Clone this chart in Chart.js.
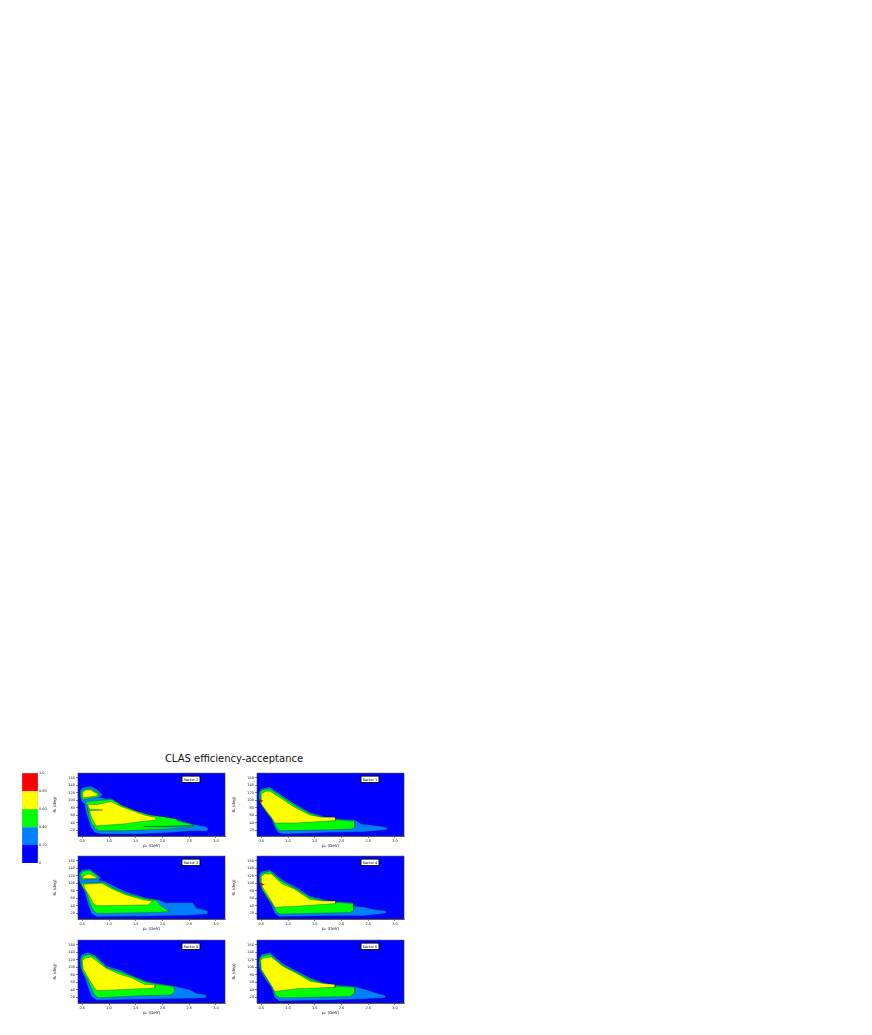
<!DOCTYPE html>
<html>
<head>
<meta charset="utf-8">
<script src="https://cdn.jsdelivr.net/npm/chart.js@4"></script>
<style>
body { margin: 0; background: #fff; width: 872px; height: 1035px; position: relative; overflow: hidden; font-family: "DejaVu Sans", sans-serif; }
#title { position: absolute; left: 0; width: 468px; top: 753px; text-align: center; font-size: 10px; color: #111; }
canvas { position: absolute; }
</style>
</head>
<body>
<div id="title">CLAS efficiency-acceptance</div>
<script>
// colour levels, bottom to top
const levelColors = ['#0000ff', '#0080ff', '#00ff00', '#ffff00', '#ff0000'];
const levelLabels = ['0', '0.20', '0.40', '0.60', '0.80', '1.0'];
const levelTicks = [0, 0.2, 0.4, 0.6, 0.8, 1.0];

const xTicks = [0.5, 1.0, 1.5, 2.0, 2.5, 3.0];
const yTicks = [20, 40, 60, 80, 100, 120, 140, 160];

// contours: [p (GeV), theta (deg)]
// Sector 2
const s2Level20 = [[0.46,126],[0.51,134],[0.66,137],[0.76,130.5],[0.88,114.5],[0.82,107],[0.97,104],[1.03,105.5],[1.15,95],[1.27,81],[1.52,68],[1.76,57],[2.07,50],[2.31,47.5],[2.55,37],[2.80,30.5],[2.86,25],[2.83,18],[2.49,18],[2.19,14.5],[1.58,10],[0.85,10],[0.73,14.5],[0.66,28],[0.62,46],[0.57,68],[0.54,90],[0.48,99],[0.46,113]];
const s2Level40a = [[0.48,122],[0.54,129],[0.66,130.5],[0.82,117],[0.79,108],[0.51,102],[0.48,108]];
const s2Level40b = [[0.57,96.5],[0.97,101],[1.06,102],[1.21,88],[1.52,71],[1.76,61],[2.07,55],[2.25,50],[2.30,44],[2.55,36],[2.60,31],[2.45,26],[2.07,23.5],[1.27,19],[0.79,19],[0.73,28],[0.66,41],[0.63,59],[0.60,81],[0.57,90]];
const s2Level60a = [[0.51,122],[0.57,127],[0.66,127],[0.79,116],[0.76,111],[0.52,106.5],[0.51,113]];
const s2Level60b = [[0.60,89.5],[0.76,88],[1.0,95],[1.04,96.5],[1.21,84],[1.52,68],[1.70,59],[1.87,55],[1.88,47.5],[1.58,43],[1.27,37],[0.97,34],[0.76,32],[0.70,46],[0.66,59],[0.63,77]];
const s2GreenTongue = [[0.60,77],[0.88,74],[0.60,71.5]];
const s2YellowSpot = [[0.74,30.5],[0.79,26],[0.74,23.5]];
const s2BlueTongue = [[2.58,33.5],[1.65,30],[2.45,28]];

// Sector 1
const s1Level20 = [[0.46,121.5],[0.50,130.5],[0.66,135],[0.94,108],[1.16,88],[1.41,68],[1.72,55],[1.97,50],[2.25,47.5],[2.37,37],[2.66,32],[2.84,28],[2.86,21.5],[2.66,19],[2.41,16],[1.78,14.5],[0.91,10],[0.81,14.5],[0.75,28],[0.69,50],[0.62,68],[0.53,86],[0.47,95],[0.45,108]];
const s1Level40 = [[0.48,121.5],[0.53,128],[0.66,130.5],[0.91,106.5],[1.16,84],[1.41,65],[1.78,50],[2.25,44],[2.25,28],[2.19,23.5],[1.78,21.5],[0.84,19],[0.78,28],[0.72,46],[0.62,63.5],[0.53,81.5],[0.48,93]];
const s1Level60 = [[0.50,117],[0.59,124],[0.66,124],[0.88,104],[1.12,81.5],[1.41,61],[1.62,55],[1.88,55],[1.89,46],[1.16,39.5],[0.75,39.5],[0.69,55],[0.59,72.5],[0.50,90]];
const s1Level80 = [[0.48,101],[0.53,99],[0.49,95]];

// Sector 3
const s3Level20 = [[0.44,127],[0.50,136],[0.64,138],[0.85,115],[0.80,108],[0.92,105],[1.14,89],[1.36,75.5],[1.70,61],[1.92,56],[2.07,48],[2.57,48],[2.63,34.5],[2.85,27],[2.85,18],[2.51,15],[1.57,12.5],[0.77,11],[0.67,20],[0.61,42.5],[0.55,74.5],[0.47,97],[0.44,106]];
const s3Level40a = [[0.47,124.5],[0.52,132],[0.64,134],[0.80,117],[0.77,111],[0.49,109]];
const s3Level40b = [[0.47,100],[0.89,102],[1.11,85.5],[1.33,72],[1.70,58],[1.89,54.5],[1.95,42.5],[2.13,24.5],[1.76,22],[0.95,20],[0.77,20],[0.70,29],[0.64,47],[0.58,74.5],[0.49,93]];
const s3Level60a = [[0.51,118],[0.58,123.5],[0.64,124.5],[0.77,115],[0.74,112.5],[0.52,112.5]];
const s3Level60b = [[0.52,97],[0.86,100],[1.08,83.5],[1.30,70],[1.64,56],[1.82,52],[1.73,42.5],[0.77,40],[0.70,47],[0.64,65],[0.55,85.5]];

// Sector 4
const s4Level20 = [[0.46,122],[0.50,131],[0.66,136],[0.91,107],[1.16,89],[1.41,66],[1.78,53],[2.22,48],[2.25,39],[2.41,37],[2.66,29],[2.84,27],[2.84,20],[2.41,13.5],[1.78,13.5],[0.84,11],[0.75,20],[0.69,42.5],[0.59,65],[0.50,88],[0.46,102]];
const s4Level40 = [[0.48,120],[0.53,127],[0.66,132],[0.88,105.5],[1.16,84],[1.41,62],[1.78,50],[2.22,46],[2.23,29],[2.16,22],[0.84,18],[0.78,24.5],[0.72,42.5],[0.62,61],[0.52,83.5],[0.48,97]];
const s4Level60 = [[0.50,118],[0.56,124.5],[0.69,124.5],[0.88,99],[1.12,84.5],[1.41,57],[1.66,53],[1.89,53],[1.89,46],[1.16,39],[0.75,36],[0.69,52],[0.59,75],[0.50,94.5]];
const s4Level80 = [[0.47,101],[0.56,97],[0.50,93]];

// Sector 5
const s5Level20 = [[0.46,122.5],[0.49,133.5],[0.61,139],[0.74,131.5],[0.95,104],[1.20,93],[1.42,79],[1.70,63],[1.95,56],[2.26,49],[2.51,40],[2.63,31],[2.82,26.5],[2.82,19],[2.51,17],[1.57,15],[0.77,12.5],[0.67,22],[0.61,45],[0.55,72],[0.49,90.5],[0.46,104]];
const s5Level40 = [[0.48,120],[0.52,130],[0.63,134.5],[0.74,127],[0.95,99.5],[1.20,88],[1.42,76],[1.70,60],[1.95,54],[2.20,48.5],[2.23,37.5],[2.17,26.5],[1.57,24],[0.80,19],[0.73,26.5],[0.67,45],[0.58,72],[0.50,90.5]];
const s5Level60 = [[0.50,118],[0.55,124.5],[0.67,127],[0.95,97],[1.20,81],[1.42,72],[1.67,54],[1.86,54],[1.86,45],[0.77,37.5],[0.71,49],[0.61,72],[0.52,95]];

// Sector 6
const s6Level20 = [[0.46,122.5],[0.50,134.5],[0.66,139],[0.91,109],[1.16,90.5],[1.41,72],[1.78,54],[2.25,49],[2.47,40],[2.66,31],[2.83,24.5],[2.83,19],[2.41,15.5],[1.78,13],[0.84,10],[0.75,19],[0.69,45],[0.58,67.5],[0.48,90.5],[0.45,104]];
const s6Level40 = [[0.47,118],[0.51,130],[0.66,134.5],[0.88,107],[1.16,86],[1.41,68],[1.78,51],[2.25,46.5],[2.25,31],[2.16,22],[0.84,19],[0.76,26.5],[0.72,45],[0.61,67.5],[0.50,90.5]];
const s6Level60 = [[0.49,118],[0.53,124.5],[0.69,127],[0.91,102],[1.16,84],[1.41,63],[1.66,57],[1.88,54],[1.88,46.5],[1.16,43],[0.75,35.5],[0.70,49],[0.59,74],[0.50,95]];

const panels = [
    { label: 'Sector 2', left: 78, top: 773, layers: [[s2Level20, 1], [s2Level40a, 2], [s2Level40b, 2], [s2Level60a, 3], [s2Level60b, 3], [s2GreenTongue, 2], [s2YellowSpot, 3], [s2BlueTongue, 1]] },
    { label: 'Sector 1', left: 257, top: 773, layers: [[s1Level20, 1], [s1Level40, 2], [s1Level60, 3], [s1Level80, 4]] },
    { label: 'Sector 3', left: 78, top: 856, layers: [[s3Level20, 1], [s3Level40a, 2], [s3Level40b, 2], [s3Level60a, 3], [s3Level60b, 3]] },
    { label: 'Sector 4', left: 257, top: 856, layers: [[s4Level20, 1], [s4Level40, 2], [s4Level60, 3], [s4Level80, 4]] },
    { label: 'Sector 5', left: 78, top: 940, layers: [[s5Level20, 1], [s5Level40, 2], [s5Level60, 3]] },
    { label: 'Sector 6', left: 257, top: 940, layers: [[s6Level20, 1], [s6Level40, 2], [s6Level60, 3]] },
];

const plotW = 147, plotH = 63;
const yAxisW = 26, xAxisH = 12, padTop = 3, padRight = 3;

function makeCanvas(left, top, w, h) {
    const c = document.createElement('canvas');
    c.width = w; c.height = h;
    c.style.left = left + 'px'; c.style.top = top + 'px';
    c.style.width = w + 'px'; c.style.height = h + 'px';
    document.body.appendChild(c);
    return c.getContext('2d');
}

// blue plot background, frame and sector box
const panelDeco = {
    id: 'panelDeco',
    beforeDatasetsDraw(chart) {
        const { ctx, chartArea: a } = chart;
        ctx.save();
        ctx.fillStyle = levelColors[0];
        ctx.fillRect(a.left, a.top, a.width, a.height);
        ctx.restore();
    },
    afterDraw(chart, args, opts) {
        const { ctx, chartArea: a } = chart;
        ctx.save();
        ctx.strokeStyle = '#333';
        ctx.lineWidth = 0.6;
        ctx.strokeRect(a.left, a.top, a.width, a.height);
        const w = 18, h = 6.5, x = a.right - 25 - w, y = a.top + 3;
        ctx.fillStyle = '#fff';
        ctx.fillRect(x, y, w, h);
        ctx.strokeStyle = '#000';
        ctx.lineWidth = 0.9;
        ctx.strokeRect(x, y, w, h);
        ctx.fillStyle = '#000';
        ctx.font = '3.5px "DejaVu Sans"';
        ctx.textAlign = 'center';
        ctx.textBaseline = 'middle';
        ctx.fillText(opts.label, x + w / 2, y + h / 2 + 0.3);
        ctx.restore();
    }
};

function layer(points, level, order) {
    const data = points.map(p => ({ x: p[0], y: p[1] }));
    data.push({ x: points[0][0], y: points[0][1] });
    return {
        data,
        showLine: true,
        fill: 'shape',
        backgroundColor: levelColors[level],
        borderColor: 'rgba(0,40,30,0.55)',
        borderWidth: 0.6,
        pointRadius: 0,
        tension: 0,
        order
    };
}

const tickFont = { size: 3.5, family: '"DejaVu Sans"' };

panels.forEach(p => {
    const ctx = makeCanvas(p.left - yAxisW, p.top - padTop, yAxisW + plotW + padRight, padTop + plotH + xAxisH);
    const n = p.layers.length;
    new Chart(ctx, {
        type: 'scatter',
        data: { datasets: p.layers.map((l, i) => layer(l[0], l[1], n - i)) },
        options: {
            responsive: false,
            animation: false,
            layout: { padding: { top: padTop, right: padRight, left: 0, bottom: 0 } },
            scales: {
                x: {
                    min: 0.42, max: 3.17,
                    afterBuildTicks: s => { s.ticks = xTicks.map(v => ({ value: v })); },
                    afterFit: s => { s.height = xAxisH; },
                    ticks: { font: tickFont, color: '#222', padding: 1, maxRotation: 0, callback: v => v.toFixed(1) },
                    grid: { drawOnChartArea: false, tickLength: 2, color: '#000', lineWidth: 0.5 },
                    border: { color: '#000', width: 0.6 },
                    title: { display: true, text: 'pₑ (GeV)', font: { size: 4, family: '"DejaVu Sans"' }, color: '#111', padding: 0 }
                },
                y: {
                    min: 5, max: 172,
                    afterBuildTicks: s => { s.ticks = yTicks.map(v => ({ value: v })); },
                    afterFit: s => { s.width = yAxisW; },
                    ticks: { font: tickFont, color: '#222', padding: 1 },
                    grid: { drawOnChartArea: false, tickLength: 2, color: '#000', lineWidth: 0.5 },
                    border: { color: '#000', width: 0.6 },
                    title: { display: true, text: 'θₑ (deg)', font: { size: 4, family: '"DejaVu Sans"' }, color: '#111', padding: 1 }
                }
            },
            plugins: {
                legend: { display: false },
                tooltip: { enabled: false },
                panelDeco: { label: p.label }
            }
        },
        plugins: [panelDeco]
    });
});

// colour bar
const cbCtx = makeCanvas(22, 770, 30, 96);
new Chart(cbCtx, {
    type: 'bar',
    data: {
        labels: [''],
        datasets: levelColors.map(c => ({
            data: [0.2],
            backgroundColor: c,
            borderColor: 'rgba(0,0,0,0.25)',
            borderWidth: 0.5,
            barPercentage: 1,
            categoryPercentage: 1
        }))
    },
    options: {
        responsive: false,
        animation: false,
        layout: { padding: { top: 3, bottom: 3, left: 0, right: 0 } },
        scales: {
            x: { stacked: true, display: false },
            y: {
                stacked: true,
                position: 'right',
                min: 0, max: 1,
                afterBuildTicks: s => { s.ticks = levelTicks.map(v => ({ value: v })); },
                afterFit: s => { s.width = 14; },
                ticks: { font: { size: 3.5, family: '"DejaVu Sans"' }, color: '#222', padding: 1, callback: (v, i) => levelLabels[i] },
                grid: { display: false, drawTicks: false, tickLength: 0 },
                border: { display: false }
            }
        },
        plugins: { legend: { display: false }, tooltip: { enabled: false } }
    }
});
</script>
</body>
</html>
